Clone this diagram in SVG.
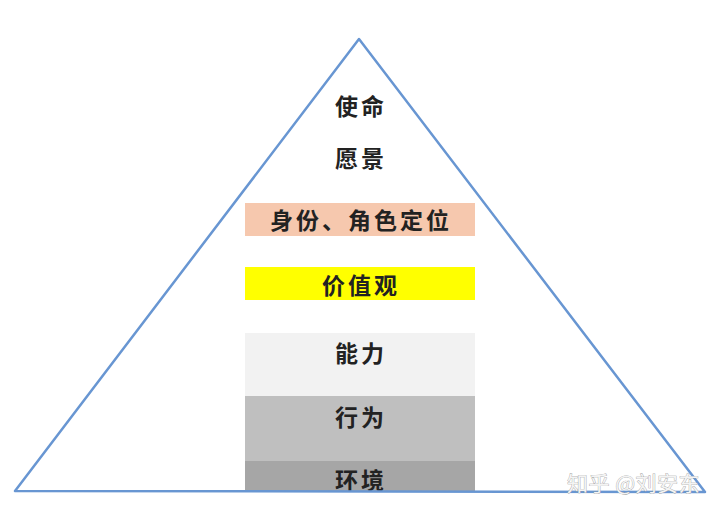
<svg xmlns="http://www.w3.org/2000/svg" width="720" height="514" viewBox="0 0 720 514">
<style>
.lbl{font-family:"Noto Sans CJK SC","Noto Sans",sans-serif;font-weight:bold;font-size:23px;fill:#222;text-anchor:middle;dominant-baseline:central;letter-spacing:3px}
.wm{font-family:"Noto Sans CJK SC","Noto Sans",sans-serif;font-size:21px;fill:#f4f4f4;stroke:#9a9a9a;stroke-width:0.7px;paint-order:stroke;letter-spacing:0.5px}
</style>
<rect width="720" height="514" fill="#ffffff"/>
<g id="layers">
<g id="n-env"><rect x="245" y="461" width="230" height="31" fill="#a6a6a6"/><text class="lbl" x="361" y="479">环境</text></g>
<g id="n-behavior"><rect x="245" y="396" width="230" height="65" fill="#bfbfbf"/><text class="lbl" x="361" y="416">行为</text></g>
<g id="n-ability"><rect x="245" y="333" width="230" height="63" fill="#f2f2f2"/><text class="lbl" x="361" y="352">能力</text></g>
<g id="n-values"><rect x="245" y="267" width="230" height="33" fill="#ffff00"/><text class="lbl" x="361" y="284">价值观</text></g>
<g id="n-identity"><rect x="245" y="203" width="230" height="33" fill="#f6c8ae"/><text class="lbl" x="361" y="219">身份、角色定位</text></g>
<g id="n-vision"><text class="lbl" x="361" y="157">愿景</text></g>
<g id="n-mission"><text class="lbl" x="361" y="105">使命</text></g>
</g>
<g id="connectors">
<polygon points="359,39 15,491 705,492" fill="none" stroke="#6896d2" stroke-width="2.5" stroke-linejoin="round"/>
</g>
<text class="wm" x="567" y="491">知乎 @刘安东</text>
</svg>
